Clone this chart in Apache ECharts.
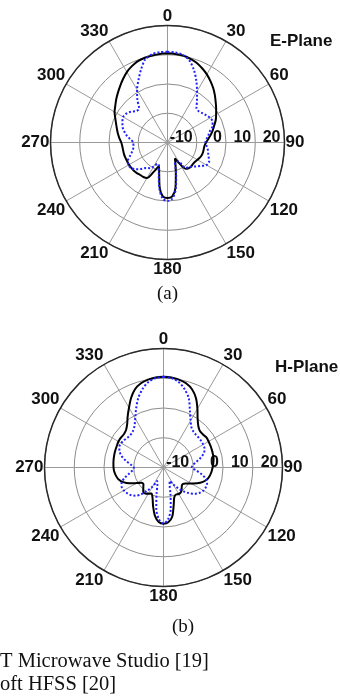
<!DOCTYPE html>
<html>
<head>
<meta charset="utf-8">
<script src="https://cdn.jsdelivr.net/npm/echarts@6/dist/echarts.min.js"></script>
<style>
  html, body { margin: 0; padding: 0; background: #fff; }
  #chart { width: 340px; height: 697px; }
</style>
</head>
<body>
<div id="chart"></div>
<script>
// angle of each sample, degrees clockwise from 0 at the top
const angles = [
  0, 5, 10, 15, 20, 25, 30, 35, 40, 45, 50, 55, 60, 65, 70, 75, 80, 85,
  90, 95, 100, 105, 110, 115, 120, 125, 130, 135, 140, 145, 150, 155, 160, 165, 170, 175,
  180, 185, 190, 195, 200, 205, 210, 215, 220, 225, 230, 235, 240, 245, 250, 255, 260, 265,
  270, 275, 280, 285, 290, 295, 300, 305, 310, 315, 320, 325, 330, 335, 340, 345, 350, 355, 360
];

// (a) E-Plane, gain in dB
const ePlaneCst = [
  10.5, 10.4, 10.2, 9.7, 9.0, 8.0, 6.9, 5.6, 4.3, 2.9, 1.5, 0.3, -0.8, -1.8, -3.0, -4.0, -5.0, -6.0,
  -6.8, -7.3, -7.4, -7.4, -7.5, -7.8, -8.2, -8.5, -8.6, -8.5, -8.6, -9.0, -11.5, -14.0, -12.0, -9.0, -4.3, -1.5,
  -1.0, -1.5, -4.5, -9.0, -11.5, -9.0, -6.0, -5.6, -5.5, -5.2, -5.0, -4.9, -4.8, -4.8, -4.7, -4.6, -4.6, -4.5,
  -4.2, -3.5, -2.8, -2.1, -1.3, -0.3, 0.9, 1.8, 2.9, 4.0, 5.2, 6.5, 7.8, 8.8, 9.6, 10.0, 10.2, 10.4, 10.5
];
const ePlaneHfss = [
  11.0, 10.9, 10.4, 9.0, 6.4, 3.3, 0.2, -2.4, -4.6, -4.9, -4.4, -3.8, -3.2, -3.0, -3.6, -5.0, -5.8, -6.6,
  -7.0, -6.6, -6.0, -5.6, -5.0, -4.3, -4.6, -6.0, -7.3, -8.3, -8.8, -9.5, -12.5, -12.5, -12.5, -8.5, -3.8, -0.8,
  0.0, -0.8, -4.0, -8.5, -11.5, -12.0, -10.5, -9.3, -8.6, -7.2, -5.8, -4.8, -4.5, -5.0, -6.3, -7.4, -8.1, -8.3,
  -8.3, -7.2, -5.8, -4.6, -3.6, -3.0, -2.5, -2.8, -3.6, -4.8, -4.9, -2.0, 0.8, 3.5, 6.5, 9.4, 10.6, 11.0, 11.0
];

// (b) H-Plane, gain in dB
const hPlaneCst = [
  10.5, 10.4, 10.0, 9.3, 8.0, 5.8, 2.8, 0.0, -1.8, -2.7, -2.7, -2.4, -2.5, -2.6, -2.7, -2.8, -2.9, -3.2,
  -3.5, -3.8, -4.2, -4.8, -5.9, -7.5, -9.3, -10.6, -11.4, -11.3, -10.5, -9.8, -9.7, -10.0, -9.4, -6.8, -3.2, -1.5,
  -1.1, -1.6, -3.5, -6.5, -9.2, -10.4, -9.8, -9.3, -9.4, -10.4, -11.2, -11.0, -9.5, -7.4, -5.6, -4.4, -3.8, -3.4,
  -3.2, -3.1, -3.0, -2.9, -2.8, -2.7, -2.5, -2.5, -2.6, -2.2, -1.0, 1.0, 3.2, 5.8, 8.0, 9.3, 10.0, 10.4, 10.5
];
const hPlaneHfss = [
  10.5, 10.2, 9.2, 7.3, 4.8, 1.0, -1.8, -3.6, -4.3, -4.5, -4.5, -4.5, -4.6, -4.8, -5.5, -7.0, -8.7, -10.0,
  -10.5, -9.0, -7.0, -5.3, -4.4, -4.3, -4.5, -5.2, -6.3, -7.8, -9.5, -11.5, -13.5, -15.0, -14.0, -11.0, -6.0, -2.5,
  -1.2, -2.5, -6.0, -11.0, -14.0, -15.0, -12.5, -10.5, -8.2, -6.6, -5.6, -5.0, -4.6, -4.5, -5.0, -6.5, -8.3, -9.6,
  -10.0, -9.0, -7.2, -5.5, -4.3, -3.6, -3.6, -3.9, -4.3, -4.4, -4.0, -3.0, -1.0, 1.8, 4.8, 7.3, 9.2, 10.2, 10.5
];

const radiusMin = -20;
const radiusMax = 20;
const radiusStep = 10;
const angleStep = 30;

const sans = 'Arial, "Liberation Sans", Helvetica, sans-serif';
const serif = '"Times New Roman", "Liberation Serif", serif';

const plots = [
  { center: [167.5, 142.5], radius: 117 },
  { center: [163.5, 467.5], radius: 119 }
];

const toPolar = (vals) => vals.map((v, i) => [v, angles[i]]);

const polar = [];
const angleAxis = [];
const radiusAxis = [];

plots.forEach((p, i) => {
  // the plot itself
  polar.push({ center: p.center, radius: p.radius });
  angleAxis.push({
    polarIndex: i,
    type: 'value',
    min: 0,
    max: 360,
    interval: angleStep,
    startAngle: 90,
    clockwise: true,
    axisLine: { lineStyle: { color: '#2a2a2a', width: 1.5 } },
    axisTick: { show: false },
    axisLabel: {
      margin: 1,
      color: '#111',
      fontSize: 17,
      fontWeight: 'bold',
      fontFamily: sans,
      formatter: (v) => (v === 360 ? '' : String(v))
    },
    splitLine: { lineStyle: { color: '#9a9a9a', width: 1 } }
  });
  radiusAxis.push({
    polarIndex: i,
    min: radiusMin,
    max: radiusMax,
    interval: radiusStep,
    axisLine: { show: false },
    axisTick: { show: false },
    axisLabel: { show: false },
    splitLine: { lineStyle: { color: '#8c8c8c', width: 1 } }
  });
});

// overlay polars, only to put the dB labels along the 90 degree spoke
plots.forEach((p, i) => {
  const idx = plots.length + i;
  polar.push({ center: p.center, radius: p.radius });
  angleAxis.push({
    polarIndex: idx,
    type: 'value',
    min: 0,
    max: 360,
    startAngle: 0,
    show: false
  });
  radiusAxis.push({
    polarIndex: idx,
    min: radiusMin,
    max: radiusMax,
    interval: radiusStep,
    axisLine: { show: false },
    axisTick: { show: false },
    splitLine: { show: false },
    axisLabel: {
      showMinLabel: false,
      margin: 5,
      align: 'right',
      verticalAlign: 'middle',
      padding: [0, 4, 0, 0],
      color: '#111',
      fontSize: 16,
      fontWeight: 'bold',
      fontFamily: sans
    }
  });
});

const solid = { color: '#000', width: 2 };
const dotted = { color: '#2020ff', width: 2, type: [2, 2] };

const series = [
  { name: 'CST Microwave Studio', polarIndex: 0, data: toPolar(ePlaneCst), lineStyle: solid },
  { name: 'Ansoft HFSS', polarIndex: 0, data: toPolar(ePlaneHfss), lineStyle: dotted },
  { name: 'CST Microwave Studio', polarIndex: 1, data: toPolar(hPlaneCst), lineStyle: solid },
  { name: 'Ansoft HFSS', polarIndex: 1, data: toPolar(hPlaneHfss), lineStyle: dotted }
].map((s) => ({
  ...s,
  type: 'line',
  coordinateSystem: 'polar',
  showSymbol: false,
  smooth: 0.3,
  z: 3
}));

const option = {
  backgroundColor: '#fff',
  animation: false,
  polar: polar,
  angleAxis: angleAxis,
  radiusAxis: radiusAxis,
  series: series,
  graphic: [
    { type: 'text', x: 270, y: 41, style: { text: 'E-Plane', font: 'bold 17px ' + sans, fill: '#111', align: 'left', verticalAlign: 'middle' } },
    { type: 'text', x: 275, y: 367, style: { text: 'H-Plane', font: 'bold 17px ' + sans, fill: '#111', align: 'left', verticalAlign: 'middle' } },
    { type: 'text', x: 167.5, y: 294, style: { text: '(a)', font: '19px ' + serif, fill: '#111', align: 'center', verticalAlign: 'middle' } },
    { type: 'text', x: 183, y: 627, style: { text: '(b)', font: '19px ' + serif, fill: '#111', align: 'center', verticalAlign: 'middle' } },
    { type: 'text', x: 0, y: 662, style: { text: 'T Microwave Studio [19]', font: '20.5px ' + serif, fill: '#111', align: 'left', verticalAlign: 'middle' } },
    { type: 'text', x: 0, y: 685, style: { text: 'oft HFSS [20]', font: '20.5px ' + serif, fill: '#111', align: 'left', verticalAlign: 'middle' } }
  ]
};

const chart = echarts.init(document.getElementById('chart'));
chart.setOption(option);
</script>
</body>
</html>
